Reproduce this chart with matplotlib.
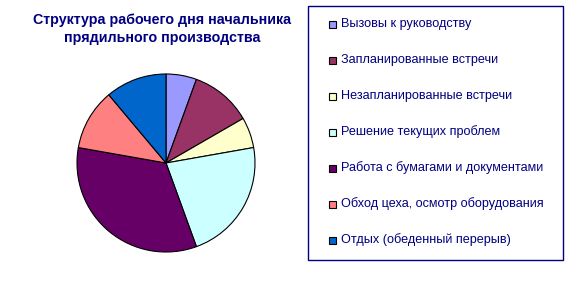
import matplotlib
matplotlib.use("Agg")
import matplotlib.pyplot as plt
from matplotlib.patches import Rectangle

# данные (часы рабочего дня)
labels = ["Вызовы к руководству",
          "Запланированные встречи",
          "Незапланированные встречи",
          "Решение текущих проблем",
          "Работа с бумагами и документами",
          "Обход цеха, осмотр оборудования",
          "Отдых (обеденный перерыв)"]
hours = [0.5, 1, 0.5, 2, 3, 1, 1]
colors = ["#9999FF", "#993366", "#FFFFCC", "#CCFFFF", "#660066", "#FF8080", "#0066CC"]
title = "Структура рабочего дня начальника\nпрядильного производства"

W, H = 584, 288
plt.rcParams['font.family'] = ['Liberation Sans', 'DejaVu Sans']
navy = "#000080"

fig = plt.figure(figsize=(W / 100, H / 100), dpi=100)

# круг: центр (166, 163), радиус ~89 px
cx, cy, r = 166, 163, 89
ax = fig.add_axes([(cx - r) / W, (H - cy - r) / H, 2 * r / W, 2 * r / H])
ax.pie(hours, colors=colors, startangle=90, counterclock=False,
       wedgeprops=dict(edgecolor="black", linewidth=0.8))
ax.set_xlim(-1.0, 1.0)
ax.set_ylim(-1.0, 1.0)
ax.set_aspect("auto")
ax.axis('off')

fig.text(162 / W, 1 - 29 / H, title, ha='center', va='center', fontsize=10.3,
         fontweight='bold', color=navy, linespacing=1.35)

# легенда вручную
fig.patches.append(Rectangle((308 / W, 1 - 260 / H), 255 / W, 254 / H,
                             transform=fig.transFigure, fill=False,
                             edgecolor=navy, linewidth=1))
for i, (lab, col) in enumerate(zip(labels, colors)):
    y = 24 + i * 36
    fig.patches.append(Rectangle((329 / W, 1 - (y + 4) / H), 7 / W, 7 / H,
                                 transform=fig.transFigure, facecolor=col,
                                 edgecolor="black", linewidth=0.8))
    fig.text(341 / W, 1 - y / H, lab, ha='left', va='center',
             fontsize=9.1, color=navy)

fig.savefig("out.png", dpi=100)
